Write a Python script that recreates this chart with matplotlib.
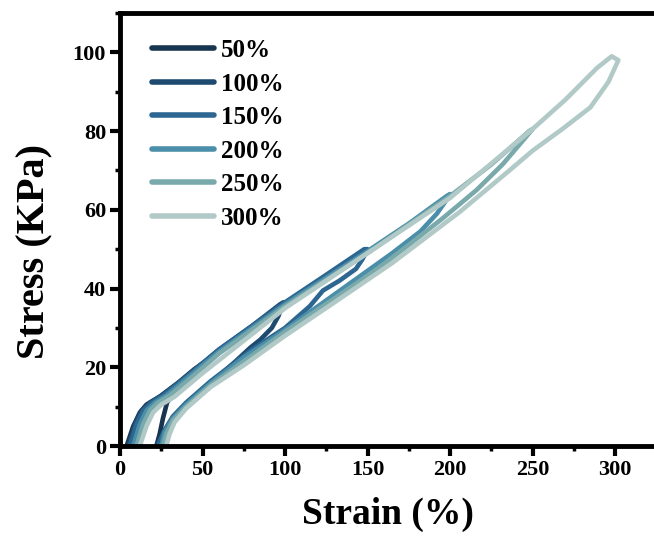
import matplotlib

matplotlib.use("Agg")
import matplotlib.pyplot as plt
from matplotlib.ticker import MultipleLocator

# --- data (strain %, stress kPa) ---
# each loop: loading branch up to the peak, then the unloading branch back down
labels = ["50%", "100%", "150%", "200%", "250%", "300%"]
colors = ["#18354f", "#1e4a70", "#2d6791", "#4b8ea9", "#7aa9ab", "#b1cac7"]

strain_50 = [4, 8, 12, 16, 24, 35, 45, 50,
             47, 41, 33, 28.5, 26, 24, 22]
stress_50 = [0, 5, 8.5, 10.5, 12.5, 16, 19.5, 21,
             19, 16.5, 14, 11, 7, 3, 0]

strain_100 = [5, 9, 13, 18, 25, 40, 60, 80, 97, 99,
              96, 92, 85, 79, 70, 55, 40, 32, 27, 24, 22]
stress_100 = [0, 5.5, 9, 11, 12.8, 17.5, 24.5, 30.5, 36, 36.5,
              33, 30, 27, 25, 21.5, 16, 10, 7, 4, 1.5, 0]

strain_150 = [6, 10, 14, 19, 26, 40, 60, 80, 100, 125, 148, 150,
              147, 143, 133, 123, 115, 100, 80, 55, 40, 32, 27, 24, 23]
stress_150 = [0, 5.5, 9, 11, 12.8, 17.5, 24.5, 30.5, 36.5, 43.5, 50, 50,
              47.5, 45, 42, 39.5, 35.5, 30, 24.5, 16.5, 11, 7.5, 4, 1, 0]

strain_200 = [8, 12, 16, 21, 28, 40, 60, 100, 150, 175, 198, 200,
              197, 192, 182, 165, 150, 125, 100, 75, 55, 40, 32, 27, 25]
stress_200 = [0, 5.5, 9, 11, 12.8, 17, 24, 36, 49.5, 56.5, 63.5, 64,
              62, 59, 54.5, 49, 44.5, 37, 29.5, 22.5, 16, 10.5, 7, 3.5, 0]

strain_250 = [10, 14, 18, 23, 30, 45, 60, 100, 150, 200, 225, 248, 250,
              244, 232, 216, 196, 176, 156, 130, 100, 75, 55, 40, 32, 28, 26]
stress_250 = [0, 5.5, 9, 11, 12.8, 18, 23.5, 35.5, 49, 63.5, 71.5, 80, 80.5,
              77.5, 71.6, 65, 58, 51.4, 45, 37.5, 29, 21.5, 15.5, 10, 6.5, 3, 0]

strain_300 = [12, 16, 20, 25, 33, 50, 100, 150, 200, 250, 270, 289, 298,
              302, 296, 285, 268, 250, 236, 206, 165, 130, 100, 75, 55, 40, 33, 30, 28]
stress_300 = [0, 5, 8.5, 10.5, 12.5, 18.5, 35, 49, 63, 80.5, 88, 96, 99,
              98, 92.5, 86, 80.5, 75, 70, 59.5, 46.5, 36.5, 28, 20.5, 15, 9.5, 6, 3, 0]

strains = [strain_50, strain_100, strain_150, strain_200, strain_250, strain_300]
stresses = [stress_50, stress_100, stress_150, stress_200, stress_250, stress_300]

plt.rcParams["font.family"] = ["Liberation Serif", "DejaVu Serif"]
plt.rcParams["font.weight"] = "bold"

fig = plt.figure(figsize=(6.54, 5.41), dpi=100)
ax = fig.add_axes([0.1835, 0.1756, 0.82, 0.8004])

for x, y, c, lab in zip(strains, stresses, colors, labels):
    ax.plot(x, y, color=c, linewidth=3.3, label=lab, solid_capstyle="round",
            solid_joinstyle="round")

ax.set_xlim(0, 325)
ax.set_ylim(0, 110)
ax.xaxis.set_major_locator(MultipleLocator(50))
ax.xaxis.set_minor_locator(MultipleLocator(25))
ax.yaxis.set_major_locator(MultipleLocator(20))
ax.yaxis.set_minor_locator(MultipleLocator(10))

for s in ax.spines.values():
    s.set_linewidth(3.5)

ax.tick_params(which="major", direction="out", length=7, width=3, labelsize=16, pad=3)
ax.tick_params(which="minor", direction="out", length=3.5, width=2.5)
for lab in ax.get_xticklabels() + ax.get_yticklabels():
    lab.set_fontweight("bold")

ax.set_xlabel("Strain (%)", fontsize=27, fontweight="bold", labelpad=12)
ax.set_ylabel("Stress (KPa)", fontsize=29, fontweight="bold")
ax.yaxis.set_label_coords(-0.125, 0.45)

leg = ax.legend(loc="upper left", frameon=False, fontsize=18, handlelength=2.5,
                handletextpad=0.25, labelspacing=0.42, borderaxespad=0,
                bbox_to_anchor=(0.041, 0.963))
for t in leg.get_texts():
    t.set_fontweight("bold")
for h in leg.get_lines():
    h.set_linewidth(4)

fig.savefig("out.png", dpi=100)
